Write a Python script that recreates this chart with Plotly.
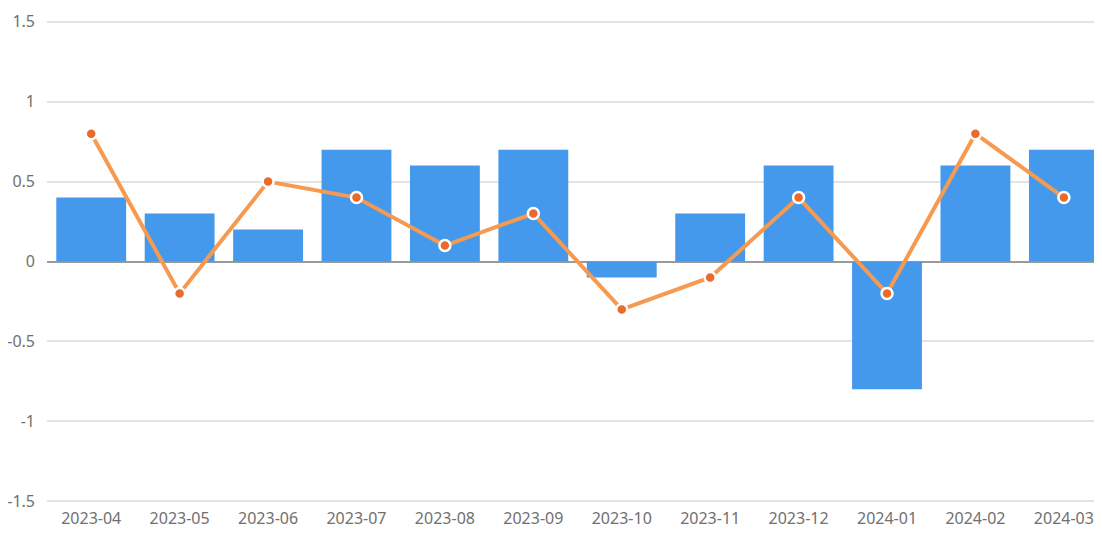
import plotly.graph_objects as go

months = ["2023-04", "2023-05", "2023-06", "2023-07", "2023-08", "2023-09",
          "2023-10", "2023-11", "2023-12", "2024-01", "2024-02", "2024-03"]
bar_values = [0.4, 0.3, 0.2, 0.7, 0.6, 0.7, -0.1, 0.3, 0.6, -0.8, 0.6, 0.7]
line_values = [0.8, -0.2, 0.5, 0.4, 0.1, 0.3, -0.3, -0.1, 0.4, -0.2, 0.8, 0.4]
y_ticks = [1.5, 1, 0.5, 0, -0.5, -1, -1.5]
y_tick_text = ["1.5", "1", "0.5", "0", "-0.5", "-1", "-1.5"]

fig = go.Figure()
fig.add_trace(go.Bar(
    x=list(range(len(months))), y=bar_values,
    marker=dict(color="#4499ec", line=dict(width=0)),
    width=0.79, showlegend=False,
))
fig.add_trace(go.Scatter(
    x=list(range(len(months))), y=line_values, mode="lines+markers",
    line=dict(color="#f59a50", width=4),
    marker=dict(size=11, color="#ea6a2c", line=dict(color="white", width=2.5)),
    showlegend=False, cliponaxis=False,
))

fig.update_layout(
    width=1102, height=538,
    margin=dict(l=39, r=9, t=9, b=40, autoexpand=False),
    paper_bgcolor="white", plot_bgcolor="white",
    font=dict(family="Noto Sans, sans-serif", size=16, color="#707070"),
    bargap=0.2,
    xaxis=dict(
        range=[-0.5, 11.42],
        tickvals=list(range(len(months))), ticktext=months,
        showgrid=False, zeroline=False, showline=False, automargin=False,
        ticks="", ticklabelstandoff=1, tickfont=dict(size=16, color="#707070"),
    ),
    yaxis=dict(
        range=[-1.53, 1.53],
        tickvals=y_ticks, ticktext=y_tick_text,
        showgrid=True, gridcolor="#e3e3e3", gridwidth=1.5,
        zeroline=True, zerolinecolor="#9a9a9a", zerolinewidth=1.5,
        showline=False, ticks="", ticklabelstandoff=11, automargin=False,
        tickfont=dict(size=16, color="#707070"),
    ),
)

fig.write_html("out.html")
